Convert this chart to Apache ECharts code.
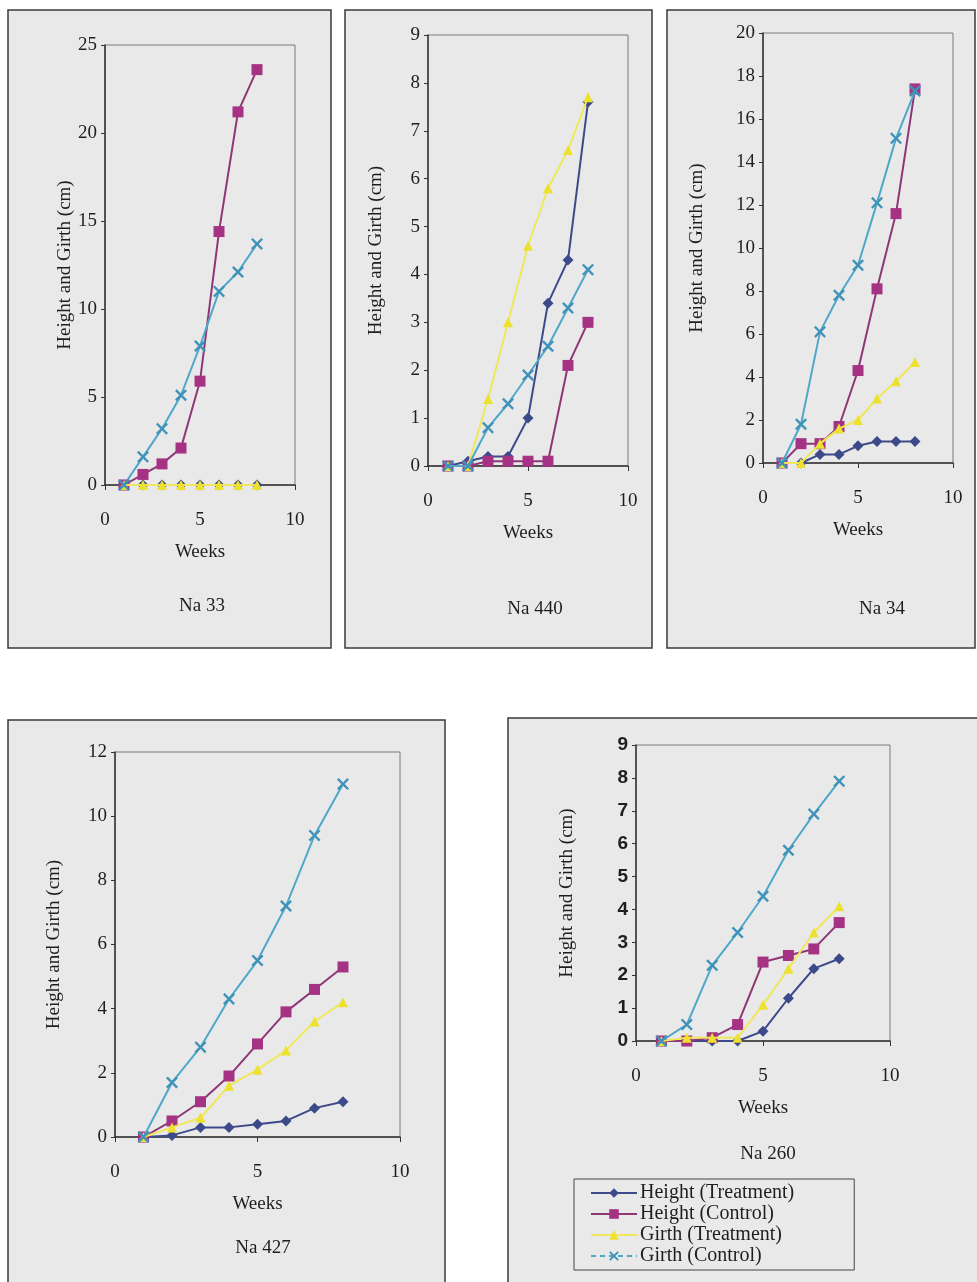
<!DOCTYPE html>
<html>
<head>
<meta charset="utf-8">
<title>Height and Girth growth</title>
<script src="https://cdn.jsdelivr.net/npm/echarts@6/dist/echarts.min.js"></script>
<style>
  html, body { margin: 0; padding: 0; background: #ffffff; }
  #chart { width: 977px; height: 1282px; }
</style>
</head>
<body>
<div id="chart"></div>
<script>
// Weeks of measurement (shared x values)
const weeks = [1, 2, 3, 4, 5, 6, 7, 8];

// Series names (legend order)
const seriesNames = ['Height (Treatment)', 'Height (Control)', 'Girth (Treatment)', 'Girth (Control)'];

// Na 33
const na33HeightTreatment = [0, 0, 0, 0, 0, 0, 0, 0];
const na33HeightControl   = [0, 0.6, 1.2, 2.1, 5.9, 14.4, 21.2, 23.6];
const na33GirthTreatment  = [0, 0, 0, 0, 0, 0, 0, 0];
const na33GirthControl    = [0, 1.6, 3.2, 5.1, 7.9, 11.0, 12.1, 13.7];

// Na 440
const na440HeightTreatment = [0, 0.1, 0.2, 0.2, 1.0, 3.4, 4.3, 7.6];
const na440HeightControl   = [0, 0, 0.1, 0.1, 0.1, 0.1, 2.1, 3.0];
const na440GirthTreatment  = [0, 0, 1.4, 3.0, 4.6, 5.8, 6.6, 7.7];
const na440GirthControl    = [0, 0, 0.8, 1.3, 1.9, 2.5, 3.3, 4.1];

// Na 34
const na34HeightTreatment = [0, 0, 0.4, 0.4, 0.8, 1.0, 1.0, 1.0];
const na34HeightControl   = [0, 0.9, 0.9, 1.7, 4.3, 8.1, 11.6, 17.4];
const na34GirthTreatment  = [0, 0, 0.9, 1.6, 2.0, 3.0, 3.8, 4.7];
const na34GirthControl    = [0, 1.8, 6.1, 7.8, 9.2, 12.1, 15.1, 17.3];

// Na 427
const na427HeightTreatment = [0, 0.05, 0.3, 0.3, 0.4, 0.5, 0.9, 1.1];
const na427HeightControl   = [0, 0.5, 1.1, 1.9, 2.9, 3.9, 4.6, 5.3];
const na427GirthTreatment  = [0, 0.3, 0.6, 1.6, 2.1, 2.7, 3.6, 4.2];
const na427GirthControl    = [0, 1.7, 2.8, 4.3, 5.5, 7.2, 9.4, 11.0];

// Na 260
const na260HeightTreatment = [0, 0, 0, 0, 0.3, 1.3, 2.2, 2.5];
const na260HeightControl   = [0, 0, 0.1, 0.5, 2.4, 2.6, 2.8, 3.6];
const na260GirthTreatment  = [0, 0.1, 0.1, 0.1, 1.1, 2.2, 3.3, 4.1];
const na260GirthControl    = [0, 0.5, 2.3, 3.3, 4.4, 5.8, 6.9, 7.9];

// Panel titles and y-axis ranges
const panelTitles = ['Na 33', 'Na 440', 'Na 34', 'Na 427', 'Na 260'];
const yMaxes      = [25, 9, 20, 12, 9];
const yIntervals  = [5, 1, 2, 2, 1];
const xTicks      = { min: 0, max: 10, interval: 5 };

const panelValues = [
  [na33HeightTreatment, na33HeightControl, na33GirthTreatment, na33GirthControl],
  [na440HeightTreatment, na440HeightControl, na440GirthTreatment, na440GirthControl],
  [na34HeightTreatment, na34HeightControl, na34GirthTreatment, na34GirthControl],
  [na427HeightTreatment, na427HeightControl, na427GirthTreatment, na427GirthControl],
  [na260HeightTreatment, na260HeightControl, na260GirthTreatment, na260GirthControl]
];

// ---- layout (pixels) ----
const frames = [
  { x: 8,   y: 10,  w: 323, h: 638 },
  { x: 345, y: 10,  w: 307, h: 638 },
  { x: 667, y: 10,  w: 308, h: 638 },
  { x: 8,   y: 720, w: 437, h: 575 },
  { x: 508, y: 718, w: 480, h: 575 }
];
const grids = [
  { left: 105, top: 45,  width: 190, height: 440 },
  { left: 428, top: 35,  width: 200, height: 431 },
  { left: 763, top: 33,  width: 190, height: 430 },
  { left: 115, top: 752, width: 285, height: 385 },
  { left: 636, top: 745, width: 254, height: 296 }
];
const yNameGaps = [24, 42, 56, 51, 59];
const titlePos = [
  { x: 197, y: 592 },
  { x: 530, y: 595 },
  { x: 877, y: 595 },
  { x: 258, y: 1234 },
  { x: 763, y: 1140 }
];

const serif = 'Liberation Serif';
const sans = 'Liberation Sans';
const ink = '#1e1e1e';
const textSize = 19;

const crossPath = 'path://M0,1.4L1.4,0L5,3.6L8.6,0L10,1.4L6.4,5L10,8.6L8.6,10L5,6.4L1.4,10L0,8.6L3.6,5Z';

const styles = [
  { color: '#3d4a8a', line: '#3d4a8a', symbol: 'diamond',  size: 11 },
  { color: '#a63284', line: '#8e3777', symbol: 'rect',     size: 11 },
  { color: '#ece12e', line: '#f0e85a', symbol: 'triangle', size: 10 },
  { color: '#3f93b8', line: '#4fa7c9', symbol: crossPath,  size: 12 }
];

const option = {
  backgroundColor: '#ffffff',
  animation: false,
  graphic: frames.map(f => ({
    type: 'rect',
    z: -10,
    silent: true,
    shape: { x: f.x, y: f.y, width: f.w, height: f.h },
    style: { fill: '#e9e9e9', stroke: '#3a3a3a', lineWidth: 1.5 }
  })),
  title: panelTitles.map((t, i) => ({
    text: t,
    left: titlePos[i].x,
    top: titlePos[i].y,
    textAlign: 'center',
    textStyle: { fontFamily: serif, fontSize: textSize, fontWeight: 'normal', color: ink }
  })),
  legend: {
    orient: 'vertical',
    left: 574,
    top: 1179,
    itemGap: 1,
    itemWidth: 46,
    itemHeight: 12,
    padding: [4, 60, 4, 16],
    borderColor: '#444',
    borderWidth: 1,
    backgroundColor: 'transparent',
    textStyle: { fontFamily: serif, fontSize: 20, color: ink, padding: [0, 0, 0, -2] },
    data: seriesNames.map((n, i) => i === 3
      ? { name: n, lineStyle: { type: [5, 4] } }
      : { name: n })
  },
  grid: grids.map(g => ({
    left: g.left, top: g.top, width: g.width, height: g.height,
    show: true, borderColor: '#7a7a7a', borderWidth: 1, backgroundColor: 'transparent'
  })),
  xAxis: grids.map((g, i) => ({
    type: 'value',
    gridIndex: i,
    min: xTicks.min, max: xTicks.max, interval: xTicks.interval,
    name: 'Weeks',
    nameLocation: 'middle',
    nameGap: 58,
    nameTextStyle: { fontFamily: serif, fontSize: textSize, color: ink },
    axisLine: { show: true, onZero: false, lineStyle: { color: '#333', width: 1.5 } },
    axisTick: { show: true, length: 5, inside: false, lineStyle: { color: '#333' } },
    axisLabel: { fontFamily: serif, fontSize: textSize, color: ink, margin: 26 },
    splitLine: { show: false }
  })),
  yAxis: grids.map((g, i) => ({
    type: 'value',
    gridIndex: i,
    min: 0, max: yMaxes[i], interval: yIntervals[i],
    name: 'Height and Girth (cm)',
    nameLocation: 'middle',
    nameGap: yNameGaps[i],
    nameTextStyle: { fontFamily: serif, fontSize: textSize, color: ink },
    axisLine: { show: true, lineStyle: { color: '#333', width: 1.5 } },
    axisTick: { show: true, length: 4, lineStyle: { color: '#333' } },
    axisLabel: i === 4
      ? { fontFamily: sans, fontSize: 19, fontWeight: 'bold', color: ink, margin: 8 }
      : { fontFamily: serif, fontSize: textSize, color: ink, margin: 8 },
    splitLine: { show: false }
  })),
  series: []
};

panelValues.forEach((vals, p) => {
  vals.forEach((arr, s) => {
    const st = styles[s];
    option.series.push({
      name: seriesNames[s],
      type: 'line',
      xAxisIndex: p,
      yAxisIndex: p,
      data: weeks.map((w, k) => [w, arr[k]]),
      symbol: st.symbol,
      symbolSize: st.size,
      showAllSymbol: true,
      clip: false,
      lineStyle: { color: st.line, width: 2 },
      itemStyle: { color: st.color, borderWidth: 0 },
      z: 2 + s
    });
  });
});

const chart = echarts.init(document.getElementById('chart'), null, { renderer: 'canvas' });
chart.setOption(option);
</script>
</body>
</html>
